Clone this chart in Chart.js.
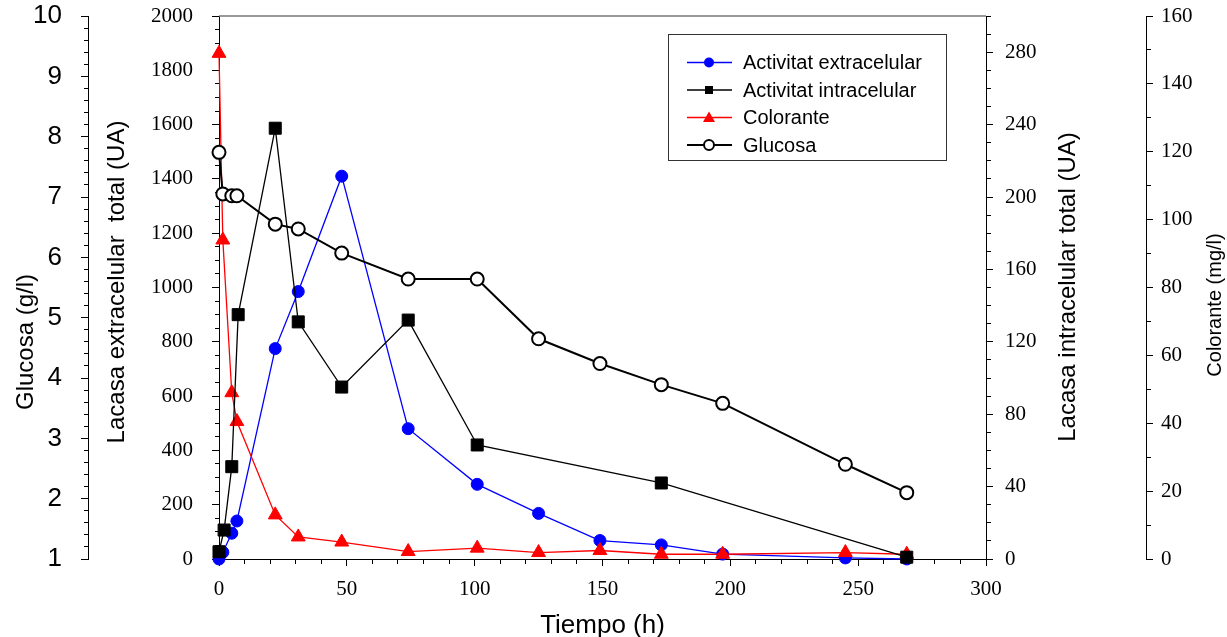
<!DOCTYPE html>
<html>
<head>
<meta charset="utf-8">
<script src="https://cdn.jsdelivr.net/npm/chart.js@4/dist/chart.umd.min.js"></script>
<style>
  html, body { margin: 0; padding: 0; background: #fff; }
  #wrap { width: 1227px; height: 637px; position: relative; }
</style>
</head>
<body>
<div id="wrap"><canvas id="chart"></canvas></div>
<script>
// data
const timeH = [0, 1.5, 5, 7, 22, 31, 48, 74, 101, 125, 149, 173, 197, 245, 269];
const extracelular = [0, 25, 95, 140, 775, 985, 1410, 480, 275, 168, 68, 52, 18, 4, 0];
const timeIntra = [0, 2, 5, 7.5, 22, 31, 48, 74, 101, 173, 269];
const intracelular = [4, 16, 51, 135, 238, 131, 95, 132, 63, 42, 1];
const colorante = [149, 94, 49, 40.5, 13, 6.5, 5, 2.2, 3.2, 1.9, 2.5, 1.4, 1.4, 1.9, 1.4];
const glucosa = [7.74, 7.05, 7.02, 7.02, 6.55, 6.47, 6.07, 5.64, 5.64, 4.65, 4.24, 3.89, 3.58, 2.57, 2.10];

const seriesNames = ['Activitat extracelular', 'Activitat intracelular', 'Colorante', 'Glucosa'];
const axisTitles = {
    x: 'Tiempo (h)',
    y: 'Lacasa extracelular  total (UA)',
    yIntra: 'Lacasa intracelular total (UA)',
    yColor: 'Colorante (mg/l)',
    yGluc: 'Glucosa (g/l)'
};

const SERIF = "'Liberation Serif', 'Times New Roman', serif";
const SANS = "'Liberation Sans', Arial, sans-serif";

function pts(xs, ys) {
    return xs.map((x, i) => ({ x: x, y: ys[i] }));
}

// minor ticks: shorter marks via dash pattern
function isMajor(v, step) {
    const r = v / step;
    return Math.abs(r - Math.round(r)) < 1e-6;
}
function labelEvery(step) {
    return (v) => isMajor(v, step) ? String(Math.round(v * 10) / 10) : '';
}
// left axes draw ticks from outer end toward the axis line
function leftDash(step) {
    return (c) => (c.tick && isMajor(c.tick.value, step)) ? [] : [0, 3, 4, 100];
}
function outDash(step) {
    return (c) => (c.tick && isMajor(c.tick.value, step)) ? [] : [4, 100];
}

function yAxis(pos, min, max, stepSize, major, width, weight, font, pad) {
    return {
        type: 'linear',
        position: pos,
        min: min,
        max: max,
        weight: weight,
        afterFit: (s) => {
            s.width = width;
            s.paddingTop = 0;
            s.paddingBottom = 0;
        },
        border: { display: true, color: '#000', width: 1 },
        grid: {
            drawOnChartArea: false,
            drawTicks: true,
            tickLength: 7,
            tickColor: '#000',
            tickWidth: 1,
            tickBorderDash: pos === 'left' ? leftDash(major) : outDash(major)
        },
        ticks: {
            stepSize: stepSize,
            autoSkip: false,
            color: '#000',
            padding: pad,
            font: font,
            callback: labelEvery(major)
        }
    };
}

const extras = {
    id: 'extras',
    afterDraw(chart) {
        const ctx = chart.ctx;
        const a = chart.chartArea;
        ctx.save();
        // frame line on top of plot
        ctx.strokeStyle = '#777';
        ctx.lineWidth = 1.5;
        ctx.beginPath();
        ctx.moveTo(a.left, a.top);
        ctx.lineTo(a.right, a.top);
        ctx.stroke();

        ctx.fillStyle = '#000';
        function vText(text, x, y, size) {
            ctx.save();
            ctx.translate(x, y);
            ctx.rotate(-Math.PI / 2);
            ctx.font = size + 'px ' + SANS;
            ctx.textAlign = 'center';
            ctx.textBaseline = 'middle';
            ctx.fillText(text, 0, 0);
            ctx.restore();
        }
        vText(axisTitles.yGluc, 26, 342, 24);
        vText(axisTitles.y, 117, 282, 24);
        vText(axisTitles.yIntra, 1068, 287, 24);
        vText(axisTitles.yColor, 1215, 305, 20);

        ctx.font = '26px ' + SANS;
        ctx.textAlign = 'center';
        ctx.textBaseline = 'alphabetic';
        ctx.fillText(axisTitles.x, (a.left + a.right) / 2, 633);

        // legend
        const lx = 668, ly = 34, lw = 278, lh = 126;
        ctx.fillStyle = '#fff';
        ctx.fillRect(lx, ly, lw, lh);
        ctx.strokeStyle = '#333';
        ctx.lineWidth = 1;
        ctx.strokeRect(lx + 0.5, ly + 0.5, lw, lh);
        const rowsY = [62.5, 90, 117.5, 145];
        chart.data.datasets.forEach((ds) => {
            const i = seriesNames.indexOf(ds.label);
            const y = rowsY[i];
            ctx.strokeStyle = ds.borderColor;
            ctx.lineWidth = ds.borderWidth;
            ctx.beginPath();
            ctx.moveTo(687, y);
            ctx.lineTo(732, y);
            ctx.stroke();
            const mx = 709;
            ctx.fillStyle = ds.pointBackgroundColor;
            ctx.strokeStyle = ds.pointBorderColor;
            ctx.lineWidth = ds.pointBorderWidth;
            ctx.beginPath();
            if (ds.pointStyle === 'rect') {
                ctx.rect(mx - 4, y - 4, 8, 8);
            } else if (ds.pointStyle === 'triangle') {
                ctx.moveTo(mx, y - 6);
                ctx.lineTo(mx + 6, y + 4.5);
                ctx.lineTo(mx - 6, y + 4.5);
                ctx.closePath();
            } else {
                ctx.arc(mx, y, 5, 0, Math.PI * 2);
            }
            ctx.fill();
            if (ds.pointBorderWidth > 1) ctx.stroke();
            ctx.fillStyle = '#000';
            ctx.font = '20px ' + SANS;
            ctx.textAlign = 'left';
            ctx.textBaseline = 'middle';
            ctx.fillText(ds.label, 743, y + 1);
        });
        ctx.restore();
    }
};

const ctx = document.getElementById('chart').getContext('2d');
const chart = new Chart(ctx, {
    type: 'line',
    data: {
        datasets: [
            {
                label: seriesNames[3],
                data: pts(timeH, glucosa),
                yAxisID: 'yGluc',
                order: 0,
                borderColor: '#000',
                borderWidth: 2,
                pointStyle: 'circle',
                pointRadius: 6.5,
                pointBackgroundColor: '#fff',
                pointBorderColor: '#000',
                pointBorderWidth: 2
            },
            {
                label: seriesNames[1],
                data: pts(timeIntra, intracelular),
                yAxisID: 'yIntra',
                order: 1,
                borderColor: '#000',
                borderWidth: 1.3,
                pointStyle: 'rect',
                pointRadius: 8.5,
                pointBackgroundColor: '#000',
                pointBorderColor: '#000',
                pointBorderWidth: 1
            },
            {
                label: seriesNames[2],
                data: pts(timeH, colorante),
                yAxisID: 'yColor',
                order: 2,
                borderColor: '#ff0000',
                borderWidth: 1.3,
                pointStyle: 'triangle',
                pointRadius: 8,
                pointBackgroundColor: '#ff0000',
                pointBorderColor: '#ff0000',
                pointBorderWidth: 1
            },
            {
                label: seriesNames[0],
                data: pts(timeH, extracelular),
                yAxisID: 'y',
                order: 3,
                borderColor: '#0000ff',
                borderWidth: 1.3,
                pointStyle: 'circle',
                pointRadius: 6,
                pointBackgroundColor: '#0000ff',
                pointBorderColor: '#0000ff',
                pointBorderWidth: 1
            }
        ]
    },
    options: {
        responsive: true,
        maintainAspectRatio: false,
        animation: false,
        clip: false,
        layout: { padding: { top: 16, left: 0, right: 0, bottom: 0 } },
        elements: { line: { tension: 0 } },
        plugins: {
            legend: { display: false },
            tooltip: { enabled: false },
            title: { display: false }
        },
        scales: {
            x: {
                type: 'linear',
                position: 'bottom',
                min: 0,
                max: 300,
                afterFit: (s) => {
                    s.height = 78;
                    s.paddingLeft = 0;
                    s.paddingRight = 0;
                },
                border: { display: true, color: '#000', width: 1 },
                grid: {
                    drawOnChartArea: false,
                    tickLength: 7,
                    tickColor: '#000',
                    tickBorderDash: outDash(50)
                },
                ticks: {
                    stepSize: 10,
                    autoSkip: false,
                    maxRotation: 0,
                    color: '#000',
                    padding: 11,
                    font: { family: SERIF, size: 21 },
                    callback: labelEvery(50)
                }
            },
            y: yAxis('left', 0, 2000, 50, 200, 131, 0, { family: SERIF, size: 21 }, 19),
            yGluc: yAxis('left', 1, 10, 0.2, 1, 88, 1, { family: SANS, size: 26 }, 19),
            yIntra: yAxis('right', 0, 300, 10, 40, 160, 0, { family: SERIF, size: 21 }, 12),
            yColor: yAxis('right', 0, 160, 10, 20, 81, 1, { family: SERIF, size: 21 }, 8)
        }
    },
    plugins: [extras]
});
</script>
</body>
</html>
